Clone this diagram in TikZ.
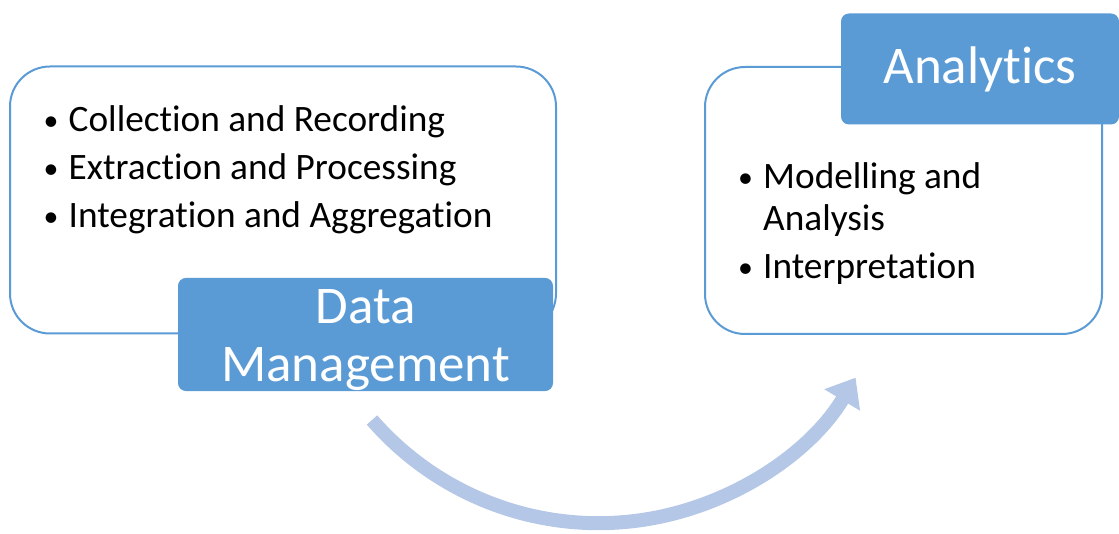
\documentclass[tikz,border=0pt]{standalone}
\usepackage{fontspec}
\setmainfont{Carlito}[Ligatures=NoCommon]
\usetikzlibrary{arrows.meta, positioning, calc}
\definecolor{HeadFill}{RGB}{91,155,213}
\definecolor{BoxLine} {RGB}{91,155,213}
\definecolor{FlowLine}{RGB}{180,199,231}
\tikzset{
  % White panel with rounded outline (width as argument)
  panel/.style={
    rectangle, rounded corners=40pt,
    draw=BoxLine, fill=white, line width=2pt,
    minimum width=#1, minimum height=267pt, inner sep=0pt
  },
  % Filled title tab sitting on a panel corner
  head/.style={
    rectangle, rounded corners=8pt,
    fill=HeadFill, text=white, align=center,
    font=\fontsize{53}{58}\selectfont,
    minimum width=#1, minimum height=111pt, inner sep=0pt
  },
  items/.style={align=left, anchor=north west, inner sep=0pt,
    font=\fontsize{37.3}{48}\selectfont},
  flow/.style={-{Triangle[length=26pt, width=40pt]}, draw=FlowLine, line width=14pt}
}
\newcommand{\itm}[1]{\makebox[22pt][l]{\hspace*{-3pt}\raisebox{1pt}{\scalebox{0.8}{\textbullet}}}#1}

\begin{document}
\begin{tikzpicture}[x=1pt, y=-1pt]
  \useasboundingbox (0,0) rectangle (1119,534);

  %% ── Data management (left) ────────────────────────────────────────────
  \node[panel=546pt] (dmbox) at (283,200) {};
  \node[items] (dmitems) at (46.5,105)
    {\itm{Collection and Recording}\\
     \itm{Extraction and Processing}\\
     \itm{Integration and Aggregation}};
  \node[head=375pt] (dmhead) at (365.5,334.5)
    {\rule{0pt}{46pt}Data\\Management};

  %% ── Analytics (right) ─────────────────────────────────────────────────
  \node[panel=397pt] (anbox) at (903.5,200.5) {};
  \node[items] (anitems) at (741,162)
    {\itm{Modelling and}\\[-6pt]
     \hspace*{22pt}Analysis\\
     \itm{Interpretation}};
  \node[head=278pt] (anhead) at (980,69) {Analytics};

  %% ── Curved flow arrow ─────────────────────────────────────────────────
  \coordinate (flowS) at (372,420);
  \draw[flow] (flowS) arc[start angle=139, end angle=31, radius=300];

\end{tikzpicture}
\end{document}
